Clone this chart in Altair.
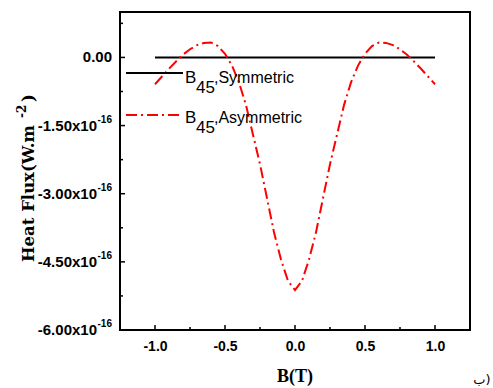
import altair as alt
import pandas as pd

# ---- data (heat flux in units of 1e-16 W.m^-2) ----
b_field = [-1.0, -0.95, -0.9, -0.85, -0.8, -0.75, -0.7, -0.65, -0.6, -0.55, -0.5,
           -0.45, -0.4, -0.35, -0.3, -0.25, -0.2, -0.15, -0.1, -0.05, 0.0,
           0.05, 0.1, 0.15, 0.2, 0.25, 0.3, 0.35, 0.4, 0.45, 0.5,
           0.55, 0.6, 0.65, 0.7, 0.75, 0.8, 0.85, 0.9, 0.95, 1.0]
asym_e16 = [-0.59, -0.42, -0.25, -0.09, 0.06, 0.18, 0.27, 0.32, 0.33, 0.25, 0.08,
            -0.18, -0.55, -1.05, -1.70, -2.35, -3.10, -3.85, -4.45, -4.92, -5.12,
            -4.92, -4.45, -3.85, -3.10, -2.35, -1.70, -1.05, -0.55, -0.18, 0.08,
            0.25, 0.33, 0.32, 0.27, 0.18, 0.06, -0.09, -0.25, -0.42, -0.59]
sym_e16 = [0.0] * len(b_field)

y_major = [0.0, -1.5, -3.0, -4.5, -6.0]
y_minor = [0.75, -0.75, -2.25, -3.75, -5.25]
x_major = [-1.0, -0.5, 0.0, 0.5, 1.0]
x_minor = [-0.75, -0.25, 0.25, 0.75]

W, H = 350, 318
E = 1e-16

df = pd.DataFrame({
    "B": b_field * 2,
    "q": [v * E for v in sym_e16] + [v * E for v in asym_e16],
    "series": ["sym"] * len(b_field) + ["asym"] * len(b_field),
})

xs = alt.Scale(domain=[-1.25, 1.25], nice=False, zero=False)
ys = alt.Scale(domain=[-6 * E, 1 * E], nice=False, zero=False)

xenc = alt.X("B:Q", scale=xs,
             axis=alt.Axis(values=x_major, ticks=False, domain=False, grid=False, title=None,
                           labelFont="Liberation Sans", labelFontWeight="bold", labelFontSize=14,
                           labelColor="black", labelPadding=9,
                           labelExpr="replace(format(datum.value,'.1f'),'\u2212','-')"))

sym_line = alt.Chart(df).transform_filter("datum.series=='sym'").mark_line(
    color="black", strokeWidth=2).encode(x=xenc, y=alt.Y("q:Q", scale=ys, axis=None))
asym_line = alt.Chart(df).transform_filter("datum.series=='asym'").mark_line(
    color="#ff0000", strokeWidth=2, strokeDash=[11, 4, 2, 4]).encode(
    x=alt.X("B:Q", scale=xs), y=alt.Y("q:Q", scale=ys, axis=None))

# ticks (inward)
ymaj_df = pd.DataFrame({"v": [v * E for v in y_major], "m": y_major})
ymin_df = pd.DataFrame({"v": [v * E for v in y_minor]})
xmaj_df = pd.DataFrame({"b": x_major})
xmin_df = pd.DataFrame({"b": x_minor})

ytick_major = alt.Chart(ymaj_df).mark_rule(color="black", strokeWidth=1.5).encode(
    y=alt.Y("v:Q", scale=ys), x=alt.value(0), x2=alt.value(5))
ytick_minor = alt.Chart(ymin_df).mark_rule(color="black", strokeWidth=1.5).encode(
    y=alt.Y("v:Q", scale=ys), x=alt.value(0), x2=alt.value(3))
xtick_major = alt.Chart(xmaj_df).mark_rule(color="black", strokeWidth=1.5).encode(
    x=alt.X("b:Q", scale=xs), y=alt.value(H), y2=alt.value(H - 5))
xtick_minor = alt.Chart(xmin_df).mark_rule(color="black", strokeWidth=1.5).encode(
    x=alt.X("b:Q", scale=xs), y=alt.value(H), y2=alt.value(H - 3))

# y tick labels with superscript exponent
ylab_base = alt.Chart(ymaj_df).transform_calculate(
    lbl="datum.m == 0 ? '0.00' : replace(format(datum.m, '.2f'), '\u2212', '-') + 'x10'",
    lx="datum.m == 0 ? -8 : -23",
).mark_text(align="right", baseline="middle", font="Liberation Sans", fontWeight="bold",
            fontSize=15, color="black").encode(
    y=alt.Y("v:Q", scale=ys), x=alt.X("lx:Q", scale=None), text="lbl:N")
ylab_exp = alt.Chart(ymaj_df).transform_filter("datum.m != 0").transform_calculate(
    ex="'-16'").mark_text(align="left", baseline="middle", font="Liberation Sans",
                          fontWeight="bold", fontSize=10, dy=-6, color="black").encode(
    y=alt.Y("v:Q", scale=ys), x=alt.value(-22.5), text="ex:N")

one = alt.Data(values=[{"k": 1}])


def txt(s, x, y, **kw):
    return alt.Chart(one).mark_text(**kw).encode(x=alt.value(x), y=alt.value(y), text=alt.value(s))


# legend
leg_sym = alt.Chart(one).mark_rule(color="black", strokeWidth=2).encode(
    x=alt.value(6), x2=alt.value(63), y=alt.value(61))
leg_asym = alt.Chart(one).mark_rule(color="#ff0000", strokeWidth=2, strokeDash=[11, 4, 2, 4]).encode(
    x=alt.value(6), x2=alt.value(63), y=alt.value(103))
lk = dict(align="left", baseline="alphabetic", font="Liberation Sans", color="black")
legend_texts = [
    txt("B", 65, 71, fontSize=17, **lk),
    txt("45", 76, 81, fontSize=17, **lk),
    txt(",Symmetric", 94, 71, fontSize=16, **lk),
    txt("B", 65, 111, fontSize=17, **lk),
    txt("45", 76, 121, fontSize=17, **lk),
    txt(",Asymmetric", 94, 111, fontSize=16, **lk),
]

# axis titles
tk = dict(font="DejaVu Serif", fontWeight="bold", color="black")
titles = [
    txt("Heat Flux(W.m", -86, 250, angle=270, align="left", baseline="alphabetic", fontSize=16.5, **tk),
    txt("-2", -86, 106, angle=270, align="left", baseline="alphabetic", fontSize=12, dy=-8, **tk),
    txt(")", -86, 90, angle=270, align="left", baseline="alphabetic", fontSize=16.5, **tk),
    txt("B(T)", 175, 365, align="center", baseline="middle", fontSize=18,
        font="Liberation Serif", fontWeight="bold", color="black"),
    txt("\u0628)", 362, 368, align="center", baseline="middle", fontSize=13,
        font="DejaVu Sans", color="black"),
]

chart = alt.layer(
    sym_line, asym_line, ytick_major, ytick_minor, xtick_major, xtick_minor,
    ylab_base, ylab_exp, leg_sym, leg_asym, *legend_texts, *titles,
).properties(
    width=W, height=H,
    autosize=alt.AutoSizeParams(type="none"),
    padding={"left": 120, "top": 12, "right": 23, "bottom": 58},
    background="white",
).configure_view(stroke="black", strokeWidth=2)

chart.save("out.html", embed_options={"renderer": "svg", "actions": False})
